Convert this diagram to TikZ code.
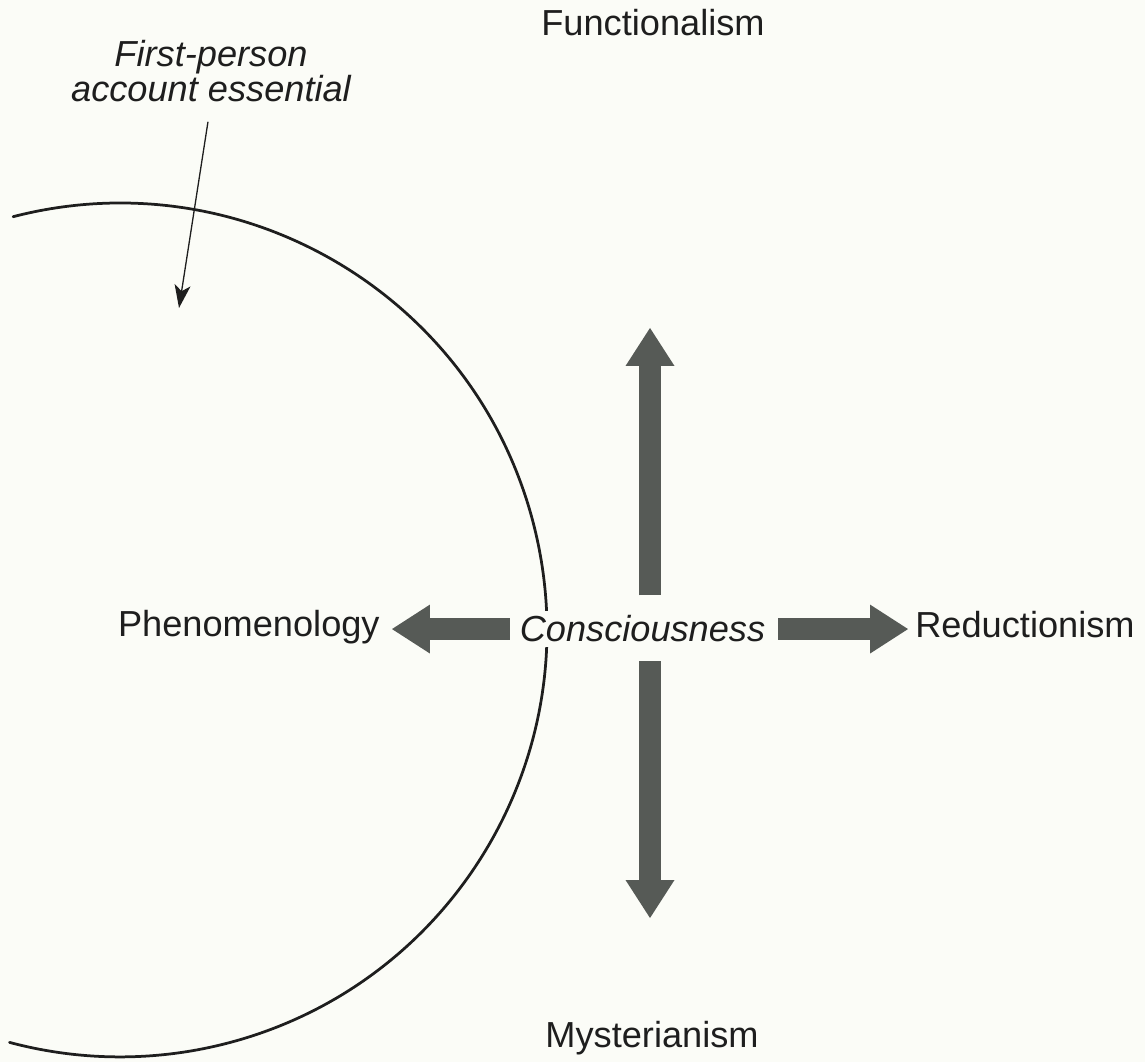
\documentclass[tikz,border=0pt]{standalone}
\usepackage{fontspec}
\setmainfont{Liberation Sans}
\usetikzlibrary{arrows.meta, positioning}

\begin{document}
\begin{tikzpicture}[x=0.02cm, y=0.02cm, >=Stealth, line cap=round, line join=round]

	%======================
	% PARAMETERS (edit here)
	%======================
	\def\cx{120}         % centre of the circle
	\def\cy{432}
	\def\rr{8.54cm}      % its radius
	\def\armx{650}       % x of the vertical arrows

	%======================
	% COLOURS AND STYLES
	%======================
	\definecolor{paper}{RGB}{251,252,247}
	\definecolor{arrowgray}{RGB}{86,90,86}
	\definecolor{inkblack}{RGB}{30,30,30}

	\tikzset{
		term/.style={font=\fontsize{20.6}{20.2}\selectfont, text=inkblack, inner sep=0pt},
		centreterm/.style={term, font=\fontsize{20.6}{20.2}\selectfont\itshape,
			fill=paper, inner xsep=0.1cm, inner ysep=0.1cm},
		ring/.style={line width=0.055cm, draw=inkblack},
		blockarr/.style={draw=arrowgray, line width=0.44cm, line cap=butt,
			-{Triangle[length=0.76cm, width=0.98cm, line width=0pt 0 0]}},
		pointer/.style={line width=0.026cm, draw=inkblack,
			-{Stealth[length=0.46cm, width=0.32cm, inset=0.12cm]}}
	}

	% paper (fixes the size of the page)
	\fill[paper] (0,0) rectangle (1145,1062);

	%======================
	% CIRCLE (cut off at the left)
	%======================
	\coordinate (ctr) at (\cx,\cy);
	\draw[ring] (ctr) ++(104.5:\rr) arc[start angle=104.5, end angle=-105, radius=\rr];

	%======================
	% TERMS
	%======================
	\node[centreterm, anchor=base] (cons) at (642.5,420) {Consciousness};
	\node[term, anchor=base east] (phen) at (380,425) {Phenomenology};
	\node[term, anchor=base west] (reduc) at (915,424) {Reductionism};
	\node[term, anchor=base] (func) at (653,1026) {Functionalism};
	\node[term, anchor=base] (myst) at (652,15) {Mysterianism};
	\node[term, font=\fontsize{20.6}{20.2}\selectfont\itshape, align=center] (note) at (211,991)
		{First-person\\account essential};

	% tips of the free arrows
	\coordinate (uptip) at (\armx,734);
	\coordinate (downtip) at (\armx,144);
	\coordinate (notetip) at (179,754);

	%======================
	% ARROWS
	%======================
	\draw[blockarr, shorten <=0.09cm, shorten >=0.24cm] (cons.west) -- (cons.west -| phen.east);
	\draw[blockarr, shorten <=0.15cm, shorten >=0.14cm] (cons.east) -- (cons.east -| reduc.west);
	\draw[blockarr, shorten <=0.3cm] (cons.north -| uptip) -- (uptip);
	\draw[blockarr, shorten <=0.27cm] (cons.south -| downtip) -- (downtip);

	\draw[pointer, shorten <=0.4cm] (note.south) -- (notetip);

\end{tikzpicture}
\end{document}
